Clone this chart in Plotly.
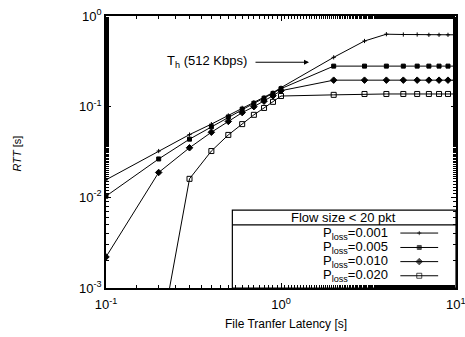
import plotly.graph_objects as go

x_vals = [0.1, 0.2, 0.3, 0.4, 0.5, 0.6, 0.7, 0.8, 0.9, 1, 2, 3, 4, 5, 6, 7, 8, 9, 10]
rtt_p001 = [0.0156, 0.0324, 0.0492, 0.0642, 0.080, 0.097, 0.112, 0.127, 0.143, 0.162,
            0.35, 0.53, 0.63, 0.625, 0.625, 0.62, 0.62, 0.62, 0.62]
rtt_p005 = [0.0103, 0.0265, 0.0438, 0.0600, 0.077, 0.094, 0.109, 0.124, 0.140, 0.158,
            0.28, 0.28, 0.28, 0.28, 0.28, 0.28, 0.28, 0.28, 0.28]
rtt_p010 = [0.0022, 0.0188, 0.0352, 0.0522, 0.0687, 0.0860, 0.100, 0.115, 0.132, 0.150,
            0.196, 0.196, 0.196, 0.196, 0.196, 0.196, 0.196, 0.196, 0.196]
rtt_p020 = [0.00001, 0.00022, 0.0160, 0.0324, 0.0488, 0.0642, 0.0813, 0.0968, 0.113, 0.131,
            0.135, 0.138, 0.138, 0.138, 0.138, 0.138, 0.138, 0.138, 0.138]
x_ticks = [0.1, 1, 10]
x_tick_text = ["10<sup>-1</sup>", "10<sup>0</sup>", "10<sup>1</sup>"]
y_ticks = [0.001, 0.01, 0.1, 1]
y_tick_text = ["10<sup>-3</sup>", "10<sup>-2</sup>", "10<sup>-1</sup>", "10<sup>0</sup>"]
legend_labels = ["P<sub>loss</sub>=0.001", "P<sub>loss</sub>=0.005",
                 "P<sub>loss</sub>=0.010", "P<sub>loss</sub>=0.020"]
legend_title = "Flow size < 20 pkt"

series = [rtt_p001, rtt_p005, rtt_p010, rtt_p020]
symbols = ["cross-thin-open", "square", "diamond", "square-open"]
sizes = [3, 4, 5, 5]

FONT = "Liberation Sans, Arial, sans-serif"

fig = go.Figure()
for ys, sym, sz, name in zip(series, symbols, sizes, legend_labels):
    fig.add_trace(go.Scatter(
        x=x_vals, y=ys, mode="lines+markers", name=name,
        line=dict(color="black", width=1),
        marker=dict(symbol=sym, size=sz, color="black",
                    line=dict(color="black", width=1)),
        showlegend=False, cliponaxis=True))

# legend samples on overlay axes (0..1 = plot area)
row_y = [0.202, 0.149, 0.097, 0.045]
for ry, sym, sz in zip(row_y, symbols, sizes):
    fig.add_trace(go.Scatter(
        x=[0.841, 0.895, 0.949], y=[ry, ry, ry], mode="lines+markers",
        line=dict(color="black", width=1),
        marker=dict(symbol=sym, size=[0, sz, 0], color="black",
                    line=dict(color="black", width=1)),
        xaxis="x2", yaxis="y2", showlegend=False, hoverinfo="skip"))

minor_style = dict(ticks="inside", ticklen=3, tickcolor="black", showgrid=False)

fig.update_layout(
    width=465, height=337,
    margin=dict(l=106, r=7, t=12, b=49),
    paper_bgcolor="white", plot_bgcolor="white",
    font=dict(family=FONT, size=13, color="black"),
    xaxis=dict(type="log", range=[-1, 1], tickvals=x_ticks[:2], ticktext=x_tick_text[:2],
               ticks="inside", ticklen=5, tickcolor="black",
               minor=minor_style, ticklabelstandoff=4,
               showline=True, linecolor="black", linewidth=1.5,
               mirror="ticks", showgrid=False, zeroline=False,
               tickfont=dict(size=13)),
    yaxis=dict(type="log", range=[-3, 0], tickvals=y_ticks, ticktext=y_tick_text,
               ticks="inside", ticklen=5, tickcolor="black",
               minor=minor_style,
               showline=True, linecolor="black", linewidth=1.5,
               mirror="ticks", showgrid=False, zeroline=False,
               tickfont=dict(size=13)),
    xaxis2=dict(overlaying="x", range=[0, 1], visible=False, fixedrange=True),
    yaxis2=dict(overlaying="y", range=[0, 1], visible=False, fixedrange=True),
    shapes=[
        dict(type="rect", xref="paper", yref="paper", x0=0.361, x1=1.0, y0=0.0, y1=0.286,
             line=dict(color="black", width=1.2), fillcolor="white", layer="below"),
        dict(type="line", xref="paper", yref="paper", x0=0.361, x1=1.0, y0=0.232, y1=0.232,
             line=dict(color="black", width=1.2)),
    ],
    annotations=[
        dict(text=x_tick_text[2], xref="x", yref="paper", x=1, y=-0.06,
             showarrow=False, xanchor="center", yanchor="middle", font=dict(size=13)),
        dict(text=legend_title, xref="paper", yref="paper", x=0.679, y=0.261,
             showarrow=False, font=dict(size=13), xanchor="center", yanchor="middle"),
        *[dict(text=lab, xref="paper", yref="paper", x=0.8125, y=ry,
               showarrow=False, font=dict(size=13), xanchor="right", yanchor="middle")
          for lab, ry in zip(legend_labels, row_y)],
        dict(text="T<sub>h</sub> (512 Kbps)", xref="paper", yref="paper",
             x=0.409, y=0.833, showarrow=False, xanchor="right", yanchor="middle",
             font=dict(size=13)),
        dict(text="", xref="paper", yref="paper", x=0.58, y=0.830,
             ax=-55, ay=0, showarrow=True, arrowhead=2, arrowsize=1, arrowwidth=1,
             arrowcolor="black"),
        dict(text="File Tranfer Latency [s]", xref="paper", yref="paper",
             x=0.514, y=-0.134, showarrow=False, xanchor="center", yanchor="middle",
             font=dict(size=12)),
        dict(text="<i>RTT</i> [s]", xref="paper", yref="paper",
             x=-0.253, y=0.496, showarrow=False, textangle=-90,
             xanchor="center", yanchor="middle", font=dict(size=11)),
    ],
)

fig.write_html("out.html", config={"displayModeBar": False},
               post_script="document.body.style.margin='0';")
